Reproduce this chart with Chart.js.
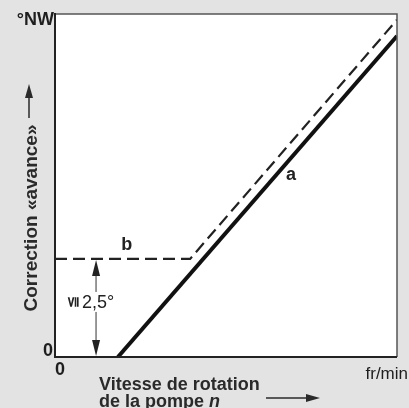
<!DOCTYPE html>
<html>
<head>
<meta charset="utf-8">
<script src="https://cdn.jsdelivr.net/npm/chart.js@4"></script>
<style>
  html, body { margin: 0; padding: 0; background: #e3e3e3; }
  #wrap { width: 409px; height: 408px; }
</style>
</head>
<body>
<div id="wrap"><canvas id="c" width="409" height="408"></canvas></div>
<script>
// Speed axis (relative 0..100) and advance correction (relative 0..100)
const curveA_x = [18.4, 100];
const curveA_y = [0, 93.6];
const curveB_x = [0, 39.5, 100];
const curveB_y = [28.6, 28.6, 98.3];
const xTickLabels = ['0'];
const yTickLabels = ['0'];
const offsetLabel = '2,5°';
const curveLabels = ['a', 'b'];

const toPoints = (xs, ys) => xs.map((x, i) => ({ x, y: ys[i] }));

const FONT = '"Liberation Sans", Arial, sans-serif';

const decor = {
  id: 'decor',
  beforeDatasetsDraw(chart) {
    const { ctx, chartArea: a } = chart;
    ctx.save();
    ctx.fillStyle = '#ffffff';
    ctx.fillRect(a.left, a.top, a.right - a.left, a.bottom - a.top);
    ctx.restore();
  },
  afterDatasetsDraw(chart) {
    const { ctx, chartArea: a, scales: { x, y } } = chart;
    ctx.save();
    // frame: thin top/right, heavier left/bottom
    ctx.strokeStyle = '#555';
    ctx.lineWidth = 1.5;
    ctx.beginPath();
    ctx.moveTo(a.left, a.top); ctx.lineTo(a.right, a.top); ctx.lineTo(a.right, a.bottom);
    ctx.stroke();
    ctx.strokeStyle = '#222';
    ctx.lineWidth = 2;
    ctx.beginPath();
    ctx.moveTo(a.left, a.top - 1); ctx.lineTo(a.left, a.bottom); ctx.lineTo(a.right, a.bottom);
    ctx.stroke();

    ctx.fillStyle = '#1e1e1e';
    // tick labels at zero
    ctx.font = 'bold 18px ' + FONT;
    ctx.textAlign = 'right'; ctx.textBaseline = 'middle';
    ctx.fillText(yTickLabels[0], a.left - 2, y.getPixelForValue(0) - 6);
    ctx.textAlign = 'center'; ctx.textBaseline = 'top';
    ctx.fillText(xTickLabels[0], x.getPixelForValue(0) + 5, a.bottom + 4);

    // units
    ctx.font = 'bold 18px ' + FONT;
    ctx.textAlign = 'right'; ctx.textBaseline = 'alphabetic';
    ctx.fillText('°NW', a.left - 1, a.top + 11);
    ctx.font = '17px ' + FONT;
    ctx.fillText('fr/min', 408, a.bottom + 22);

    // x title
    ctx.textAlign = 'left';
    ctx.font = 'bold 18px ' + FONT;
    ctx.fillStyle = '#2a2a2a';
    ctx.fillText('Vitesse de rotation', 99, 390);
    ctx.fillText('de la pompe ', 99, 407);
    const w = ctx.measureText('de la pompe ').width;
    ctx.font = 'italic bold 18px ' + FONT;
    ctx.fillText('n', 99 + w, 407);
    // x arrow
    ctx.strokeStyle = '#2a2a2a'; ctx.lineWidth = 1.5;
    ctx.beginPath(); ctx.moveTo(266, 398); ctx.lineTo(310, 398); ctx.stroke();
    ctx.beginPath(); ctx.moveTo(320, 398); ctx.lineTo(306, 394); ctx.lineTo(306, 402); ctx.closePath(); ctx.fill();

    // y title
    ctx.save();
    ctx.translate(37, 218);
    ctx.rotate(-Math.PI / 2);
    ctx.textAlign = 'center'; ctx.textBaseline = 'alphabetic';
    ctx.font = 'bold 19px ' + FONT;
    ctx.fillText('Correction «avance»', 0, 0);
    ctx.restore();
    // y arrow
    ctx.beginPath(); ctx.moveTo(29, 118); ctx.lineTo(29, 94); ctx.stroke();
    ctx.beginPath(); ctx.moveTo(29, 84); ctx.lineTo(25, 98); ctx.lineTo(33, 98); ctx.closePath(); ctx.fill();

    // dimension arrow for the offset of curve b
    const dx = x.getPixelForValue(12);
    const yTop = y.getPixelForValue(curveB_y[0]);
    const yBot = y.getPixelForValue(0);
    ctx.strokeStyle = '#333'; ctx.fillStyle = '#222'; ctx.lineWidth = 1;
    ctx.beginPath(); ctx.moveTo(dx, yTop + 10); ctx.lineTo(dx, yBot - 10); ctx.stroke();
    ctx.beginPath(); ctx.moveTo(dx, yTop + 1); ctx.lineTo(dx - 4, yTop + 17); ctx.lineTo(dx + 4, yTop + 17); ctx.closePath(); ctx.fill();
    ctx.beginPath(); ctx.moveTo(dx, yBot - 1); ctx.lineTo(dx - 4, yBot - 17); ctx.lineTo(dx + 4, yBot - 17); ctx.closePath(); ctx.fill();
    const ym = (yTop + yBot) / 2 - 6;
    ctx.fillStyle = '#ffffff';
    ctx.fillRect(dx - 15, ym - 10, 42, 20);
    ctx.fillStyle = '#222';
    ctx.font = '18px ' + FONT;
    ctx.textAlign = 'left'; ctx.textBaseline = 'middle';
    ctx.fillText(offsetLabel, dx - 14, ym + 1);
    ctx.save();
    ctx.translate(dx - 23, ym);
    ctx.rotate(-Math.PI / 2);
    ctx.textAlign = 'center';
    ctx.font = 'bold 15px "DejaVu Sans", sans-serif';
    ctx.fillText('≦', 0, 0);
    ctx.restore();

    // curve labels
    ctx.font = 'bold 18px ' + FONT;
    ctx.textAlign = 'center'; ctx.textBaseline = 'middle';
    ctx.fillText(curveLabels[0], x.getPixelForValue(69), y.getPixelForValue(53));
    ctx.fillText(curveLabels[1], x.getPixelForValue(21), y.getPixelForValue(32.5));
    ctx.restore();
  }
};

new Chart(document.getElementById('c'), {
  type: 'scatter',
  data: {
    datasets: [
      {
        label: curveLabels[0],
        data: toPoints(curveA_x, curveA_y),
        showLine: true,
        borderColor: '#111',
        borderWidth: 4,
        pointRadius: 0,
        borderCapStyle: 'butt'
      },
      {
        label: curveLabels[1],
        data: toPoints(curveB_x, curveB_y),
        showLine: true,
        borderColor: '#222',
        borderWidth: 2.2,
        borderDash: [12, 6],
        pointRadius: 0
      }
    ]
  },
  options: {
    responsive: false,
    animation: false,
    layout: { padding: { left: 55, top: 14, right: 12, bottom: 51 } },
    plugins: { legend: { display: false }, tooltip: { enabled: false } },
    scales: {
      x: { type: 'linear', min: 0, max: 100, display: false },
      y: { type: 'linear', min: 0, max: 100, display: false }
    }
  },
  plugins: [decor]
});
</script>
</body>
</html>
